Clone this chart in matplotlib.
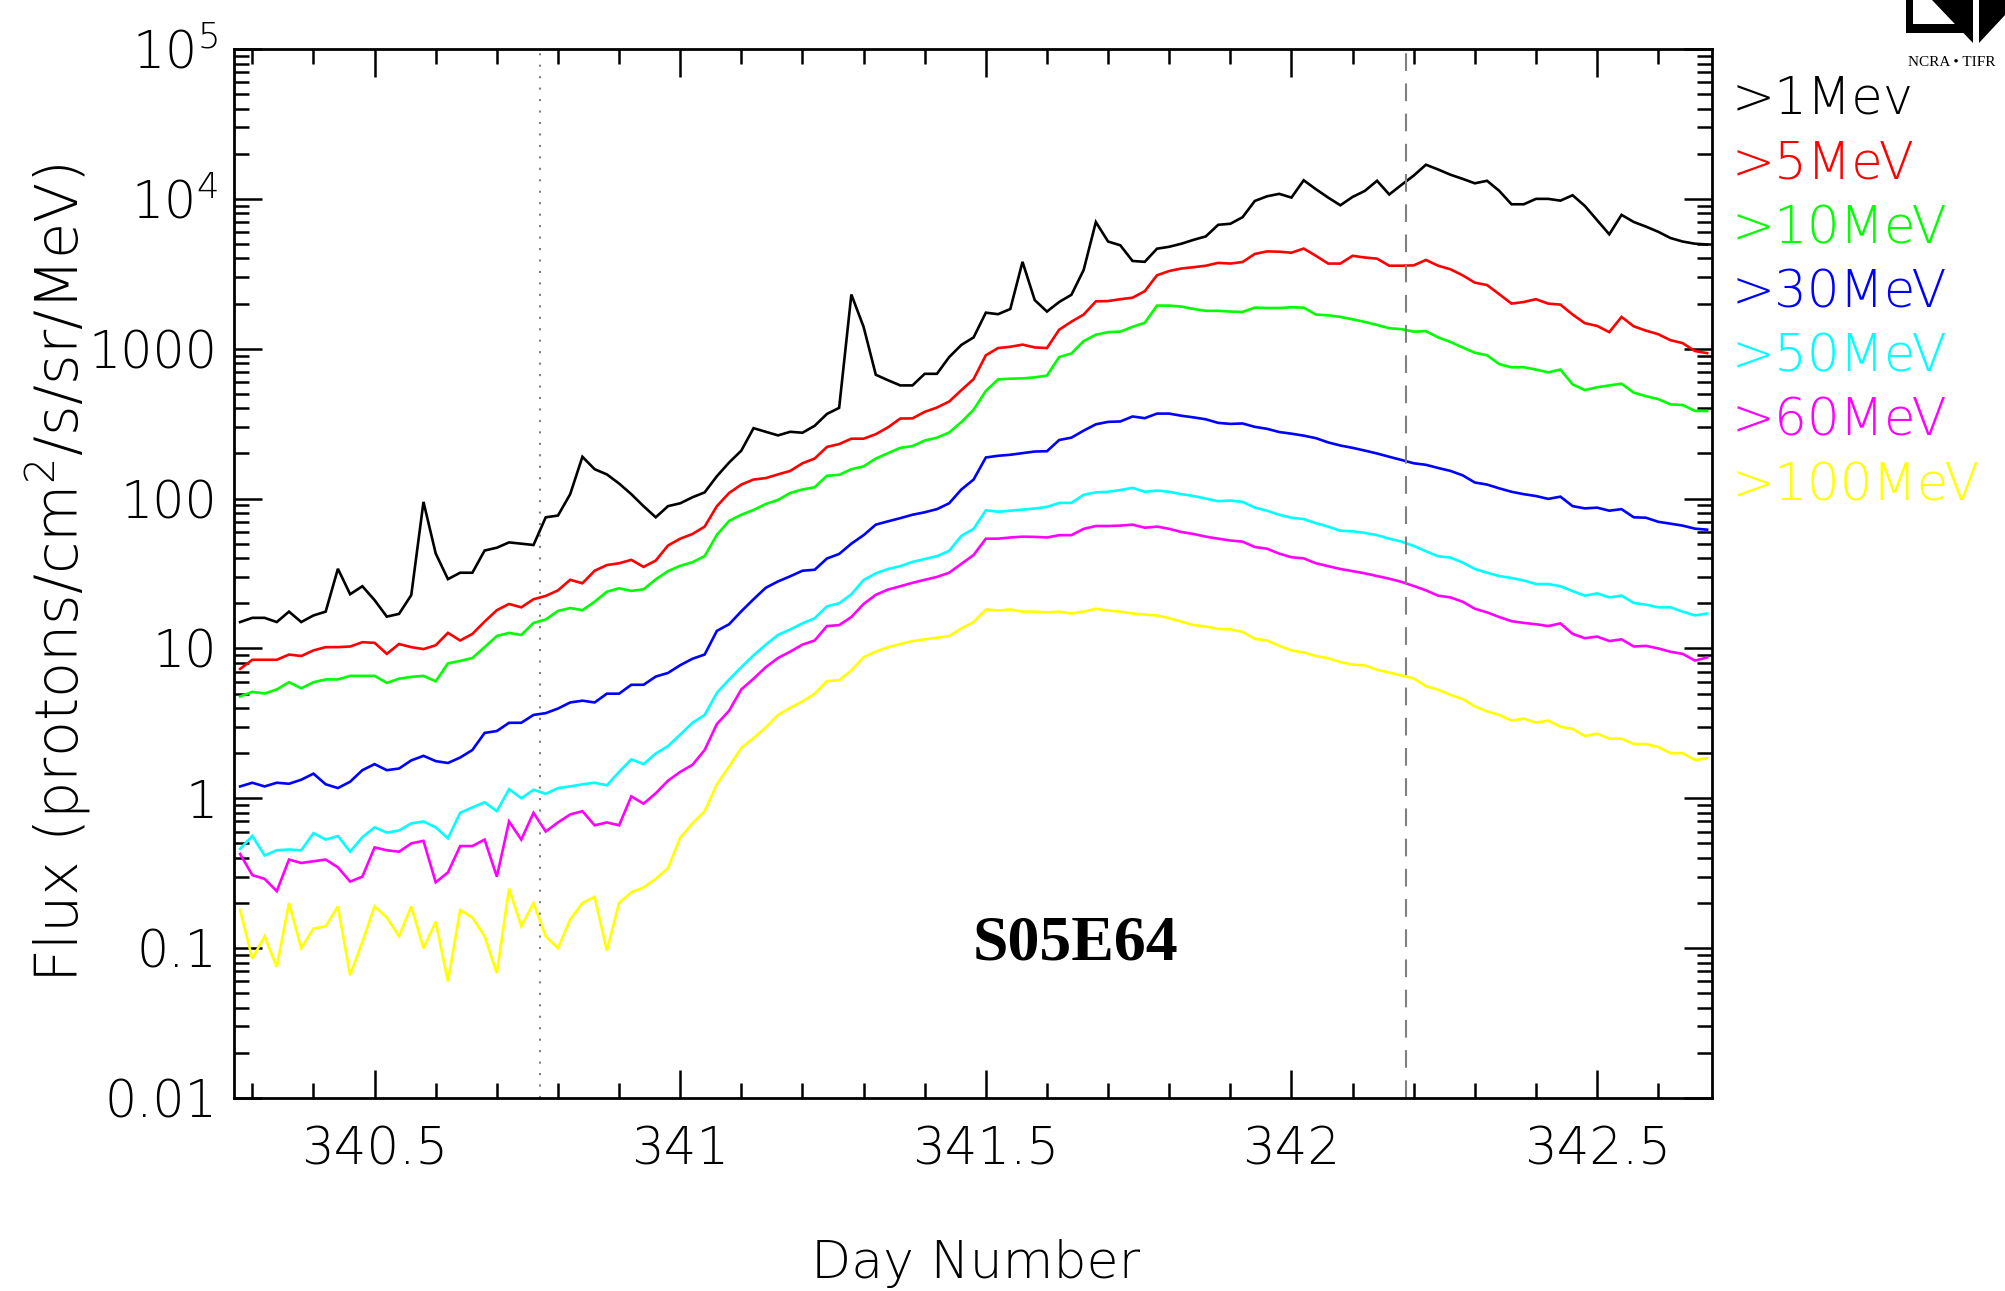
import numpy as np
import matplotlib
matplotlib.use("Agg")
import matplotlib.pyplot as plt
from matplotlib.ticker import FixedLocator, FixedFormatter, MultipleLocator, LogLocator, NullFormatter
from matplotlib.patches import Polygon

plt.rcParams["mathtext.fontset"] = "custom"
plt.rcParams["mathtext.rm"] = "DejaVu Sans:light"

# ---- sampling of the time axis (day number) ----
T0, DT = 340.28, 0.02

# ---- integral proton flux series (protons/cm2/s/sr/MeV) ----
flux_1mev = [15, 16, 16, 15, 17.6, 15, 16.6, 17.6, 34, 23, 26,
             21, 16.3, 17, 22.7, 95, 43, 29, 32, 32, 45,
             47, 51, 50, 49, 75, 77, 107, 190, 157, 145,
             126, 107, 89, 75, 89, 93, 102, 110, 141, 174,
             209, 295, 279, 264, 279, 275, 306, 367, 403, 2300,
             1400, 670, 616, 569, 569, 680, 680, 879, 1060, 1190,
             1740, 1700, 1840, 3800, 2110, 1770, 2050, 2290, 3350, 7000,
             5190, 4900, 3850, 3800, 4650, 4790, 5020, 5330, 5620, 6710,
             6820, 7540, 9680, 10400, 10800, 10200, 13300, 11600, 10200, 9060,
             10300, 11300, 13200, 10700, 12400, 14300, 16900, 15700, 14500, 13600,
             12700, 13200, 11300, 9200, 9200, 10000, 10000, 9730, 10570, 8970,
             7210, 5800, 7820, 7010, 6530, 6030, 5480, 5190, 5020, 4960]

flux_5mev = [7.3, 8.4, 8.4, 8.4, 9.1, 8.9, 9.7, 10.2, 10.2, 10.3, 11,
             10.9, 9.2, 10.7, 10.2, 9.9, 10.5, 12.7, 11.3, 12.5, 15.1,
             18, 19.8, 18.8, 21.3, 22.4, 24.4, 28.7, 27.2, 33, 36,
             37, 39, 35, 38.6, 48.6, 54, 58, 65, 89, 109,
             124, 134, 137, 145, 153, 172, 185, 221, 231, 251,
             251, 269, 299, 342, 343, 379, 405, 444, 529, 627,
             904, 1010, 1030, 1065, 1020, 1010, 1340, 1515, 1690, 2070,
             2080, 2140, 2190, 2420, 3090, 3300, 3430, 3500, 3580, 3740,
             3700, 3790, 4290, 4460, 4440, 4370, 4660, 4170, 3700, 3700,
             4170, 4060, 3990, 3580, 3580, 3600, 3910, 3580, 3390, 3090,
             2760, 2660, 2310, 2000, 2050, 2140, 2000, 1970, 1690, 1480,
             1420, 1290, 1630, 1410, 1320, 1250, 1140, 1090, 965, 934]

flux_10mev = [4.78, 5.13, 5.0, 5.33, 5.95, 5.42, 5.95, 6.21, 6.21, 6.56, 6.56,
              6.56, 5.89, 6.28, 6.46, 6.56, 6.03, 7.94, 8.26, 8.63, 10.2,
              12.1, 12.7, 12.3, 14.8, 15.6, 17.8, 18.6, 18, 20.5, 23.9,
              25.2, 24.2, 24.8, 28.9, 32.8, 35.6, 37.6, 41.3, 57.3, 71,
              78, 84, 92, 98, 109, 115, 119, 142, 144, 157,
              164, 185, 201, 218, 224, 244, 255, 276, 324, 392,
              523, 624, 631, 634, 644, 662, 880, 929, 1125, 1240,
              1290, 1300, 1400, 1490, 1940, 1940, 1910, 1840, 1790, 1790,
              1770, 1760, 1880, 1870, 1870, 1890, 1880, 1690, 1670, 1630,
              1570, 1510, 1440, 1370, 1350, 1300, 1310, 1190, 1110, 1020,
              940, 904, 789, 751, 753, 726, 695, 726, 578, 530,
              553, 569, 584, 509, 482, 461, 425, 421, 385, 384]

flux_30mev = [1.2, 1.27, 1.2, 1.27, 1.25, 1.33, 1.46, 1.24, 1.17, 1.29, 1.54,
              1.69, 1.54, 1.58, 1.79, 1.92, 1.77, 1.72, 1.87, 2.1, 2.73,
              2.81, 3.19, 3.19, 3.6, 3.7, 3.97, 4.36, 4.48, 4.36, 4.99,
              4.99, 5.72, 5.72, 6.49, 6.86, 7.73, 8.53, 9.11, 13.1, 14.5,
              17.7, 21.3, 25.4, 28, 30.3, 33, 33.5, 39.8, 42.7, 50,
              57, 67, 70.5, 74, 78, 81, 85, 93, 115, 134,
              188, 193, 196, 201, 206, 207, 246, 255, 284, 313,
              325, 327, 353, 344, 369, 369, 357, 348, 338, 320,
              315, 317, 301, 292, 278, 271, 263, 253, 237, 226,
              218, 209, 200, 190, 181, 172, 168, 160, 153, 143,
              128, 124, 117, 111, 107, 104, 99.5, 103, 89, 86,
              87, 83, 85, 75, 74.5, 70, 68, 66, 63, 62]

flux_50mev = [0.46, 0.56, 0.415, 0.45, 0.455, 0.45, 0.585, 0.53, 0.56, 0.44, 0.55,
              0.64, 0.59, 0.61, 0.68, 0.70, 0.64, 0.54, 0.80, 0.87, 0.94,
              0.82, 1.15, 1.0, 1.14, 1.07, 1.17, 1.2, 1.24, 1.27, 1.22,
              1.5, 1.82, 1.69, 1.99, 2.23, 2.66, 3.19, 3.6, 5.05, 6.2,
              7.5, 9.0, 10.6, 12.3, 13.4, 14.7, 15.9, 19.1, 20, 23,
              28.6, 31.7, 33.9, 35.4, 37.8, 39.5, 41.3, 44.8, 56.4, 62.8,
              83.5, 81.7, 83, 84.4, 85.8, 88, 93.6, 93.6, 106, 110,
              111, 114, 118, 111, 113, 111, 107, 104, 100, 96,
              97, 95, 87, 83, 78, 74.5, 73, 68.5, 65, 61,
              60.5, 59, 57, 54, 51.6, 48.3, 44.5, 41.2, 40.4, 37.4,
              33.9, 32, 30.4, 29.5, 28.4, 26.9, 26.9, 26, 24.1, 22.5,
              23.3, 21.9, 22.5, 20.1, 19.6, 18.8, 18.8, 17.6, 16.6, 17.1]

flux_60mev = [0.425, 0.307, 0.29, 0.24, 0.39, 0.37, 0.38, 0.39, 0.346, 0.278, 0.3,
              0.47, 0.45, 0.44, 0.5, 0.52, 0.275, 0.32, 0.48, 0.48, 0.53,
              0.3, 0.70, 0.53, 0.8, 0.6, 0.69, 0.78, 0.82, 0.66, 0.69,
              0.66, 1.03, 0.92, 1.08, 1.31, 1.5, 1.67, 2.1, 3.13, 3.84,
              5.33, 6.28, 7.5, 8.63, 9.52, 10.6, 11.3, 14.1, 14.3, 16.2,
              19.8, 22.8, 24.7, 26, 27.4, 28.7, 30, 32, 36.7, 42,
              54, 54, 55, 55.7, 55.5, 55, 57, 57, 62.8, 65.6,
              65.6, 66, 67, 63.9, 65, 62.8, 59.8, 58, 55.7, 54,
              52.5, 51.6, 47.5, 46.3, 42.9, 40.6, 39.9, 37, 35.4, 33.9,
              32.8, 31.7, 30.4, 29.2, 27.8, 26.1, 24.4, 22.5, 21.9, 20.5,
              18.4, 17.4, 16.2, 15.2, 14.8, 14.5, 14.1, 14.7, 12.5, 11.7,
              12, 11.2, 11.5, 10.3, 10.4, 10, 9.5, 9.2, 8.3, 8.7]

flux_100mev = [0.18, 0.085, 0.12, 0.075, 0.2, 0.1, 0.135, 0.14, 0.19, 0.066, 0.11,
               0.19, 0.16, 0.12, 0.19, 0.1, 0.15, 0.06, 0.18, 0.16, 0.12,
               0.068, 0.25, 0.14, 0.2, 0.12, 0.1, 0.155, 0.2, 0.22, 0.096,
               0.2, 0.236, 0.254, 0.29, 0.342, 0.545, 0.68, 0.82, 1.24, 1.63,
               2.17, 2.52, 2.97, 3.6, 4.01, 4.43, 4.99, 6.04, 6.15, 7.13,
               8.73, 9.53, 10.2, 10.7, 11.2, 11.5, 11.8, 12.1, 13.6, 15,
               18.2, 17.9, 18.2, 17.6, 17.6, 17.4, 17.6, 17.1, 17.6, 18.4,
               17.9, 17.6, 17.1, 16.8, 16.6, 15.9, 15.1, 14.3, 14, 13.5,
               13.4, 12.9, 11.6, 11.3, 10.4, 9.7, 9.4, 8.9, 8.6, 8.1,
               7.8, 7.7, 7.2, 6.9, 6.6, 6.3, 5.6, 5.3, 4.9, 4.6,
               4.1, 3.8, 3.6, 3.3, 3.4, 3.2, 3.3, 3.0, 2.9, 2.6,
               2.7, 2.5, 2.5, 2.3, 2.3, 2.2, 2.0, 2.0, 1.8, 1.85]

labels = [">1Mev", ">5MeV", ">10MeV", ">30MeV", ">50MeV", ">60MeV", ">100MeV"]
colors = ["#000000", "#ff0000", "#00ff00", "#0000ff", "#00ffff", "#ff00ff", "#ffff00"]
all_series = [flux_1mev, flux_5mev, flux_10mev, flux_30mev, flux_50mev, flux_60mev, flux_100mev]

yticks = [1e-2, 1e-1, 1, 10, 100, 1000, 1e4, 1e5]
ytick_labels = ["0.01", "0.1", "1", "10", "100", "1000",
                r"$\mathrm{10^4}$", r"$\mathrm{10^5}$"]
xmajor = [340.5, 341.0, 341.5, 342.0, 342.5]
xmajor_labels = ["340.5", "341", "341.5", "342", "342.5"]

onset_day = 340.771
event_day = 342.188
region_label = "S05E64"

day = T0 + DT * np.arange(len(flux_1mev))

FW = "light"  # picks a lighter DejaVu face if one is installed

# ---- figure ----
W, H = 2006, 1291
fig = plt.figure(figsize=(W / 100, H / 100), dpi=100)
ax = fig.add_axes([234 / W, 1 - 1098 / H, (1712 - 234) / W, (1098 - 49) / H])

for vals, col in zip(all_series, colors):
    ax.plot(day, vals, color=col, lw=1.9, solid_joinstyle="miter")

ax.axvline(onset_day, color="#808080", lw=1.5, ls=(0, (1, 4.5)))
ax.axvline(event_day, color="#808080", lw=1.5, ls=(0, (8.5, 6)))

ax.set_yscale("log")
ax.set_xlim(340.27, 342.688)
ax.set_ylim(1e-2, 1e5)

ax.yaxis.set_major_locator(FixedLocator(yticks))
ax.yaxis.set_major_formatter(FixedFormatter(ytick_labels))
ax.yaxis.set_minor_locator(LogLocator(base=10, subs=np.arange(2, 10)))
ax.yaxis.set_minor_formatter(NullFormatter())
ax.xaxis.set_major_locator(FixedLocator(xmajor))
ax.xaxis.set_major_formatter(FixedFormatter(xmajor_labels))
ax.xaxis.set_minor_locator(MultipleLocator(0.1))

ax.tick_params(which="both", direction="in", top=True, right=True, width=1.8, color="black")
ax.tick_params(which="major", length=20)
ax.tick_params(which="minor", length=11)
ax.tick_params(axis="x", which="major", labelsize=37, pad=20)
ax.tick_params(axis="y", which="major", labelsize=36.5, pad=12)
for t in ax.get_xticklabels() + ax.get_yticklabels():
    t.set_fontweight(FW)
for sp in ax.spines.values():
    sp.set_linewidth(2.0)

ax.set_ylabel(r"Flux (protons/cm$\mathrm{^2}$/s/sr/MeV)", fontsize=42.5, fontweight=FW)
ax.yaxis.set_label_coords(-0.119, 0.5)
ax.yaxis.label.set_va("center")
ax.set_xlabel("Day Number", fontsize=37.5, fontweight=FW)
ax.xaxis.set_label_coords(0.5014, -0.158)
ax.xaxis.label.set_va("center")

# colour-coded energy labels to the right of the plot
ys = [0.9525, 0.8905, 0.8285, 0.7675, 0.7065, 0.6455, 0.5836]
for lab, col, yy in zip(labels, colors, ys):
    ax.text(1.0135, yy, lab, color=col, fontsize=37, fontweight=FW, transform=ax.transAxes,
            ha="left", va="center", clip_on=False)

ax.text(0.569, 0.1468, region_label, transform=ax.transAxes, ha="center", va="center",
        fontsize=46, fontweight="bold", family="Liberation Serif")

# small institutional logo (top-right corner, partly cut off)
def fx(x):
    return x / W
def fy(y):
    return 1 - y / H
logo_polys = [
    [(1906, 0), (1913, 0), (1913, 24), (1962, 24), (1970, 33), (1906, 33)],
    [(1932, 0), (1973, 0), (1973, 43)],
    [(1979, 0), (2006, 0), (2006, 14), (1979, 43)],
]
for poly in logo_polys:
    fig.add_artist(Polygon([(fx(a), fy(b)) for a, b in poly], closed=True,
                           facecolor="black", edgecolor="none", transform=fig.transFigure))
fig.text(fx(1908), fy(62), "NCRA \u2022 TIFR", fontsize=11, family="Liberation Serif",
         ha="left", va="center", color="black")

fig.savefig("out.png", dpi=100, facecolor="white")
